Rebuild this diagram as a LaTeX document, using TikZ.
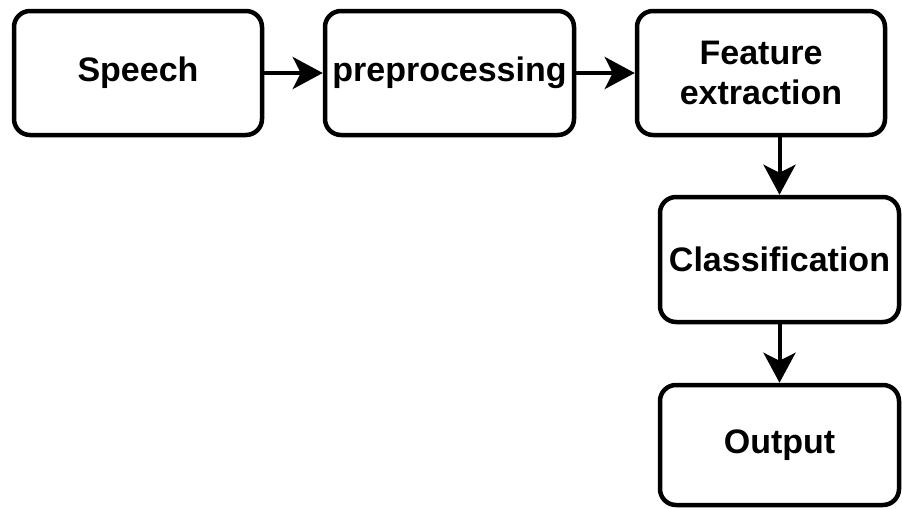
\documentclass[tikz,border=0pt]{standalone}
\usepackage{fontspec}
\setmainfont{Liberation Sans}
\usetikzlibrary{arrows.meta}
\begin{document}
\begin{tikzpicture}[x=1pt,y=-1pt,
  box/.style={draw=black, line width=4.5pt, rounded corners=16pt, fill=white,
    align=center, inner sep=0pt, font=\fontsize{34}{40}\selectfont\bfseries},
  conn/.style={line width=4pt, -{Stealth[length=30pt,width=32pt,inset=8pt]}}]
\useasboundingbox (0,0) rectangle (902,509);
\node[box, minimum width=248pt, minimum height=124pt] (speech) at (138,73) {Speech};
\node[box, minimum width=249pt, minimum height=124pt] (pre) at (449.5,73) {preprocessing};
\node[box, minimum width=248pt, minimum height=124pt] (feat) at (761,73) {Feature\\extraction};
\node[box, minimum width=239pt, minimum height=125pt] (cls) at (779.5,259.5) {Classification};
\node[box, minimum width=239pt, minimum height=120pt] (out) at (779.5,445) {Output};
\draw[conn] (speech.east) -- (pre.west);
\draw[conn] (pre.east) -- (feat.west);
\draw[conn] (cls.north |- feat.south) -- (cls.north);
\draw[conn] (cls.south) -- (out.north);
\end{tikzpicture}
\end{document}
